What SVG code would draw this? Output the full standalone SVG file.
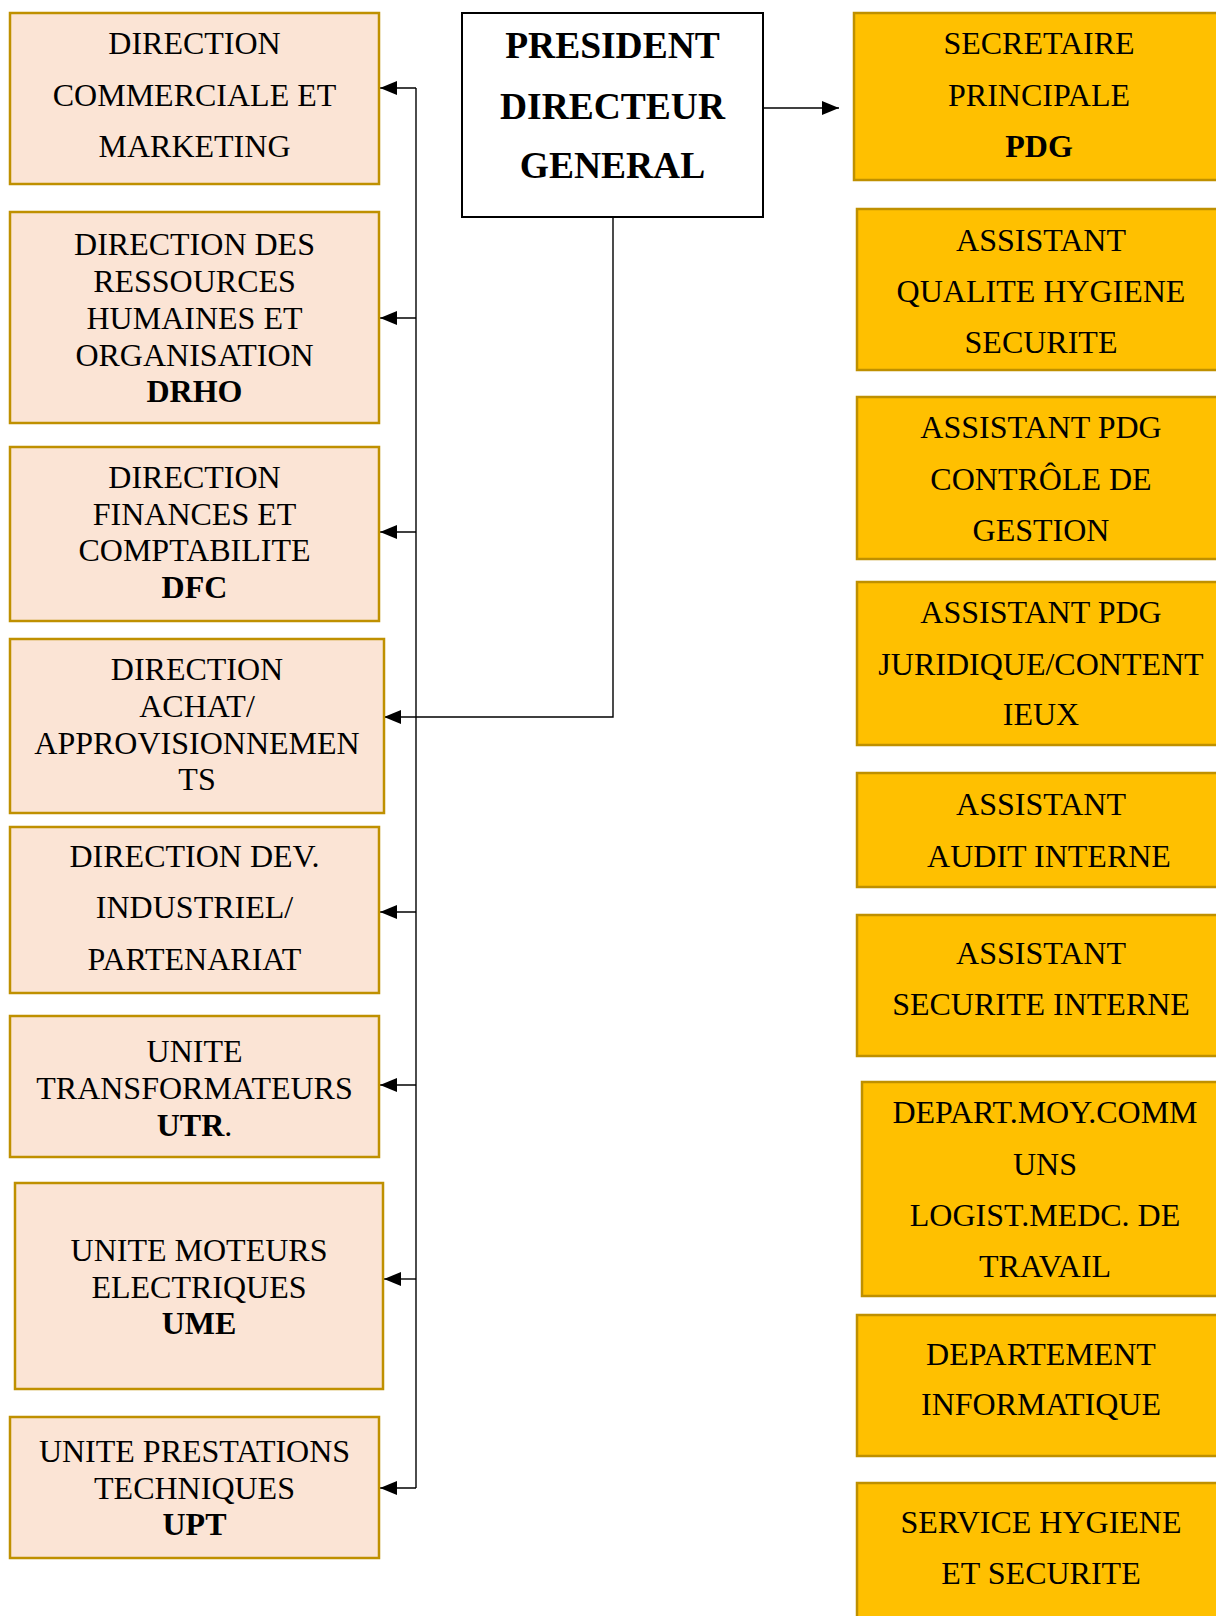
<svg xmlns="http://www.w3.org/2000/svg" width="1216" height="1616" viewBox="0 0 1216 1616">
  <style>
    .dir { fill: #FBE4D5; stroke: #BF9000; stroke-width: 2.5; }
    .asst { fill: #FFC000; stroke: #BF9000; stroke-width: 2.5; }
    .top { fill: #FFFFFF; stroke: #000000; stroke-width: 2; }
    text { font-family: "Liberation Serif", "Times New Roman", serif; font-size: 32px; fill: #000000; text-anchor: middle; }
    .b { font-weight: bold; }
    .head { font-weight: bold; font-size: 37.5px; }
    .wire { fill: none; stroke: #000000; stroke-width: 1.4; }
  </style>
  <defs>
    <marker id="arrow" viewBox="0 0 17 14" refX="17" refY="7" markerWidth="17" markerHeight="14" markerUnits="userSpaceOnUse" orient="auto">
      <path d="M0,0 L17,7 L0,14 z" fill="#000000"/>
    </marker>
  </defs>

  <rect width="1216" height="1616" fill="#FFFFFF"/>

  <!-- connectors -->
  <g id="connectors">
    <line class="wire" x1="763" y1="108" x2="839" y2="108" marker-end="url(#arrow)"/>
    <polyline class="wire" points="613,217 613,717 384,717" marker-end="url(#arrow)"/>
    <line class="wire" x1="416" y1="88" x2="416" y2="1488"/>
    <line class="wire" x1="416" y1="88" x2="380" y2="88" marker-end="url(#arrow)"/>
    <line class="wire" x1="416" y1="318" x2="380" y2="318" marker-end="url(#arrow)"/>
    <line class="wire" x1="416" y1="532" x2="380" y2="532" marker-end="url(#arrow)"/>
    <line class="wire" x1="416" y1="912" x2="380" y2="912" marker-end="url(#arrow)"/>
    <line class="wire" x1="416" y1="1085" x2="380" y2="1085" marker-end="url(#arrow)"/>
    <line class="wire" x1="416" y1="1279" x2="384" y2="1279" marker-end="url(#arrow)"/>
    <line class="wire" x1="416" y1="1488" x2="380" y2="1488" marker-end="url(#arrow)"/>
  </g>

  <!-- head of the organisation -->
  <g id="pdg">
    <rect class="top" x="462" y="13" width="301" height="204"/>
    <text class="head" x="612.5" y="58">PRESIDENT</text>
    <text class="head" x="612.5" y="119">DIRECTEUR</text>
    <text class="head" x="612.5" y="178">GENERAL</text>
  </g>

  <!-- directions and units (left column) -->
  <g id="dcm">
    <rect class="dir" x="10" y="13" width="369" height="171"/>
    <text x="194.5" y="54">DIRECTION</text>
    <text x="194.5" y="106">COMMERCIALE ET</text>
    <text x="194.5" y="157">MARKETING</text>
  </g>
  <g id="drho">
    <rect class="dir" x="10" y="212" width="369" height="211"/>
    <text x="194.5" y="255">DIRECTION DES</text>
    <text x="194.5" y="292">RESSOURCES</text>
    <text x="194.5" y="329">HUMAINES ET</text>
    <text x="194.5" y="366">ORGANISATION</text>
    <text class="b" x="194.5" y="402">DRHO</text>
  </g>
  <g id="dfc">
    <rect class="dir" x="10" y="447" width="369" height="174"/>
    <text x="194.5" y="488">DIRECTION</text>
    <text x="194.5" y="525">FINANCES ET</text>
    <text x="194.5" y="561">COMPTABILITE</text>
    <text class="b" x="194.5" y="598">DFC</text>
  </g>
  <g id="achat">
    <rect class="dir" x="10" y="639" width="374" height="174"/>
    <text x="197" y="680">DIRECTION</text>
    <text x="197" y="717">ACHAT/</text>
    <text x="197" y="754">APPROVISIONNEMEN</text>
    <text x="197" y="790">TS</text>
  </g>
  <g id="dev">
    <rect class="dir" x="10" y="827" width="369" height="166"/>
    <text x="194.5" y="867">DIRECTION DEV.</text>
    <text x="194.5" y="918">INDUSTRIEL/</text>
    <text x="194.5" y="970">PARTENARIAT</text>
  </g>
  <g id="utr">
    <rect class="dir" x="10" y="1016" width="369" height="141"/>
    <text x="194.5" y="1062">UNITE</text>
    <text x="194.5" y="1099">TRANSFORMATEURS</text>
    <text x="194.5" y="1136"><tspan class="b">UTR</tspan>.</text>
  </g>
  <g id="ume">
    <rect class="dir" x="15" y="1183" width="368" height="206"/>
    <text x="199" y="1261">UNITE MOTEURS</text>
    <text x="199" y="1298">ELECTRIQUES</text>
    <text class="b" x="199" y="1334">UME</text>
  </g>
  <g id="upt">
    <rect class="dir" x="10" y="1417" width="369" height="141"/>
    <text x="194.5" y="1462">UNITE PRESTATIONS</text>
    <text x="194.5" y="1499">TECHNIQUES</text>
    <text class="b" x="194.5" y="1535">UPT</text>
  </g>

  <!-- staff attached to the PDG (right column) -->
  <g id="secretaire">
    <rect class="asst" x="854" y="13" width="372" height="167"/>
    <text x="1039" y="54">SECRETAIRE</text>
    <text x="1039" y="106">PRINCIPALE</text>
    <text class="b" x="1039" y="157">PDG</text>
  </g>
  <g id="qhs">
    <rect class="asst" x="857" y="209" width="369" height="161"/>
    <text x="1041" y="251">ASSISTANT</text>
    <text x="1041" y="302">QUALITE HYGIENE</text>
    <text x="1041" y="353">SECURITE</text>
  </g>
  <g id="controle">
    <rect class="asst" x="857" y="397" width="369" height="162"/>
    <text x="1041" y="438">ASSISTANT PDG</text>
    <text x="1041" y="490">CONTRÔLE DE</text>
    <text x="1041" y="541">GESTION</text>
  </g>
  <g id="juridique">
    <rect class="asst" x="857" y="582" width="369" height="163"/>
    <text x="1041" y="623">ASSISTANT PDG</text>
    <text x="1041" y="675">JURIDIQUE/CONTENT</text>
    <text x="1041" y="725">IEUX</text>
  </g>
  <g id="audit">
    <rect class="asst" x="857" y="773" width="369" height="114"/>
    <text x="1041" y="815">ASSISTANT</text>
    <text x="1049" y="867">AUDIT INTERNE</text>
  </g>
  <g id="securite">
    <rect class="asst" x="857" y="915" width="369" height="141"/>
    <text x="1041" y="964">ASSISTANT</text>
    <text x="1041" y="1015">SECURITE INTERNE</text>
  </g>
  <g id="moyens">
    <rect class="asst" x="862" y="1082" width="369" height="214"/>
    <text x="1045" y="1123">DEPART.MOY.COMM</text>
    <text x="1045" y="1175">UNS</text>
    <text x="1045" y="1226">LOGIST.MEDC. DE</text>
    <text x="1045" y="1277">TRAVAIL</text>
  </g>
  <g id="informatique">
    <rect class="asst" x="857" y="1315" width="369" height="141"/>
    <text x="1041" y="1365">DEPARTEMENT</text>
    <text x="1041" y="1415">INFORMATIQUE</text>
  </g>
  <g id="hygiene">
    <rect class="asst" x="857" y="1483" width="369" height="150"/>
    <text x="1041" y="1533">SERVICE HYGIENE</text>
    <text x="1041" y="1584">ET SECURITE</text>
  </g>
</svg>
